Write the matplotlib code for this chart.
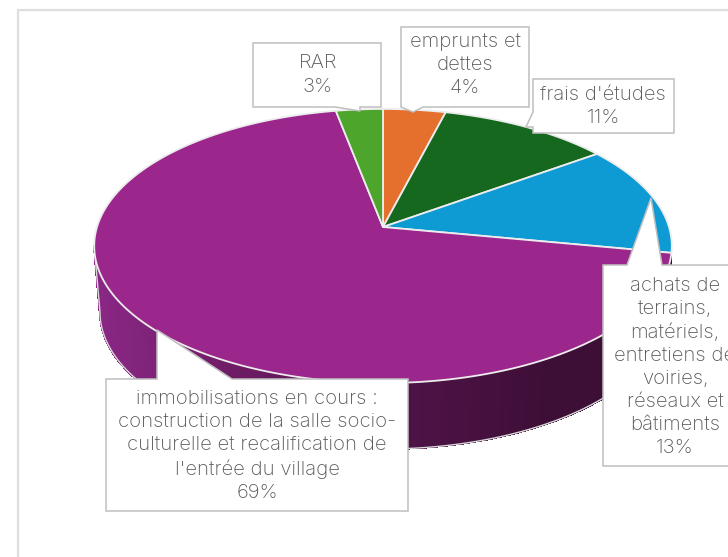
import numpy as np
import matplotlib
matplotlib.use("Agg")
import matplotlib.pyplot as plt
from matplotlib.patches import Polygon, Rectangle
from matplotlib.colors import to_rgb

labels = ["emprunts et\ndettes\n4%", "frais d'études\n11%",
          "achats de\nterrains,\nmatériels,\nentretiens de\nvoiries,\nréseaux et\nbâtiments\n13%",
          "immobilisations en cours :\nconstruction de la salle socio-\nculturelle et recalification de\nl'entrée du village\n69%",
          "RAR\n3%"]
values = [4, 11, 13, 69, 3]
colors = ["#E5702D", "#17681F", "#0E9AD3", "#9C278C", "#4DA52C"]
wall_stops = ["#8A2785", "#6B1B62", "#4F1347", "#3D0E36"]

# callout outlines and text anchors (pixels)
box_rar = [(253, 43), (381, 43), (381, 107), (360, 107), (360, 111), (335, 107), (253, 107)]
box_emp = [(401, 27), (529, 27), (529, 107), (423, 107), (413, 112), (401, 107)]
box_fra = [(533, 79), (674, 79), (674, 133), (533, 133), (533, 127), (526, 127), (533, 112)]
box_ach = [(603, 265), (627, 265), (651, 198), (662, 265), (740, 265), (740, 466), (603, 466)]
box_imm = [(106, 379), (157, 379), (157, 330), (232, 379), (408, 379), (408, 511), (106, 511)]
callouts = [box_emp, box_fra, box_ach, box_imm, box_rar]
anchors = [(465, 65), (603, 106), (675, 367), (257, 446), (318, 75)]

W, H = 728, 557
fig = plt.figure(figsize=(W / 100, H / 100), dpi=100, facecolor="white")
ax = fig.add_axes([0, 0, 1, 1])
ax.set_xlim(0, W)
ax.set_ylim(H, 0)
ax.axis("off")
plt.rcParams["font.family"] = ["Inter", "DejaVu Sans"]

# chart frame (runs past the right and bottom edges of the picture)
ax.add_patch(Rectangle((18, 10), 730, 570, fc="white", ec="#DEDEDE", lw=1.6, zorder=0))

# perspective projection of a tilted unit disc
CX, CY, A, B, K = 383.0, 227.0, 286.0, 134.4, 0.1387
DEPTH, SHRINK = 66.0, 0.98


def project(theta, r=1.0, lower=False):
    """theta: clockwise from 12 o'clock, radians."""
    X, Y = r * np.sin(theta), r * np.cos(theta)
    den = 1 + K * Y
    x = A * X / den
    y = CY - B * Y / den
    if lower:
        return CX + x * SHRINK, y + DEPTH
    return CX + x, y


fractions = np.array(values, float) / sum(values)
edges = np.concatenate([[0], np.cumsum(fractions)]) * 2 * np.pi
# wall: visible front part of the big slice, up to the left silhouette
i_big = int(np.argmax(values))
t_left = 2 * np.pi - np.arccos(-K)
ts = np.linspace(edges[i_big], t_left, 361)
stops = np.array([to_rgb(c) for c in wall_stops])
xmin, xmax = 94.0, 672.0
for a, b in zip(ts[:-1], ts[1:]):
    xa, ya = project(a)
    xb, yb = project(b)
    xc, yc = project(b, lower=True)
    xd, yd = project(a, lower=True)
    u = np.clip((0.5 * (xa + xb) - xmin) / (xmax - xmin), 0, 1)
    col = [np.interp(u, np.linspace(0, 0.8, 4), stops[:, k]) for k in range(3)]
    ax.add_patch(Polygon([(xa, ya), (xb, yb), (xc, yc), (xd, yd)], closed=True,
                         fc=col, ec=col, lw=0.8, antialiased=False, zorder=1))
# wall bottom outline and left silhouette
bx, by = project(ts, lower=True)
tx0, ty0 = project(ts[-1])
ax.plot(np.r_[bx, tx0], np.r_[by, ty0], color="#D8D8D8", lw=1.0, zorder=1.5)

# top faces
for i, (v, c) in enumerate(zip(values, colors)):
    th = np.linspace(edges[i], edges[i + 1], 200)
    rx, ry = project(th)
    pts = np.vstack([[CX, CY], np.column_stack([rx, ry])])
    ax.add_patch(Polygon(pts, closed=True, fc=c, ec="#EDEDED", lw=1.3, joinstyle="round", zorder=2))

# callouts
for outline, lab, (tx, ty) in zip(callouts, labels, anchors):
    ax.add_patch(Polygon(outline, closed=True, fc="white", ec="#BFBFBF", lw=1.1, zorder=3))
    ax.text(tx, ty, lab, ha="center", va="center", fontsize=14.6, color="#595959",
            linespacing=1.36, zorder=4, family=["Inter", "DejaVu Sans"], fontweight="light",
            clip_on=True)

fig.savefig("out.png", dpi=100, facecolor="white")
